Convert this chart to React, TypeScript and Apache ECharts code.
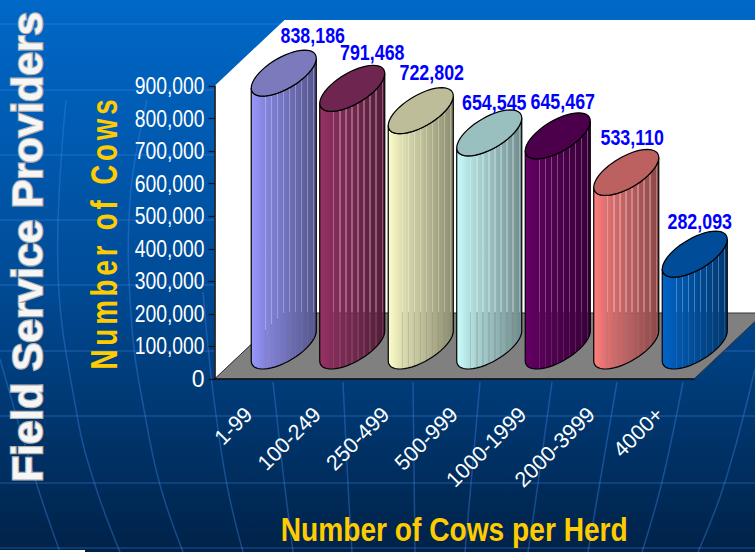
import React, { useEffect, useRef } from "react";
import * as echarts from "echarts";

const categories = ["1-99", "100-249", "250-499", "500-999", "1000-1999", "2000-3999", "4000+"];
const cows = [838186, 791468, 722802, 654545, 645467, 533110, 282093];
const barColors = ["#9999FF", "#993366", "#FFFFCC", "#CCFFFF", "#660066", "#FF8080", "#0066CC"];
const topColors = ["#7A7ABD", "#6E2650", "#BDBD9A", "#9ABFBF", "#4C004C", "#BD6060", "#004C99"];
const labelShift = [[29, -38], [20, -36], [11, -38], [5, -30], [5, -34], [6, -35], [5, -33]];

const W = 755, H = 552;
const GRID = { left: 214.5, top: 86, right: 694, bottom: 379 };
const DEPTH = [70, -66];

const SANS = "'Liberation Sans', Arial, sans-serif";

function mix(hex: string, k: number, alpha = 1) {
  const n = parseInt(hex.slice(1), 16);
  const r = Math.round(((n >> 16) & 255) * k);
  const g = Math.round(((n >> 8) & 255) * k);
  const b = Math.round((n & 255) * k);
  return `rgba(${r},${g},${b},${alpha})`;
}

function bodyGradient(c: string) {
  const base = (t: number) => (t < 0.1 ? 1 - t * 0.9 : 0.91 - ((t - 0.1) / 0.9) * 0.36);
  const stops: { offset: number; color: string }[] = [
    { offset: 0, color: mix(c, 1) },
    { offset: 0.04, color: mix(c, 0.97) },
    { offset: 0.2, color: mix(c, base(0.2)) },
  ];
  const step = 0.0925;
  for (let t = 0.21; t < 0.98; t += step) {
    const g = 0.017;
    stops.push({ offset: t, color: mix(c, base(t), 1) });
    stops.push({ offset: t, color: mix(c, base(t), 0.72) });
    stops.push({ offset: t + g, color: mix(c, base(t), 0.72) });
    stops.push({ offset: t + g, color: mix(c, base(t), 1) });
  }
  stops.push({ offset: 1, color: mix(c, 0.55, 1) });
  return new echarts.graphic.LinearGradient(0, 0, 1, 0, stops);
}

const renderBar = (params: any, api: any) => {
  const i = api.value(0);
  const v = api.value(1);
  const band = api.size([1, 0])[0];
  const top0 = api.coord([i, v]);
  const base0 = api.coord([i, 0]);
  const dx = DEPTH[0] / 2, dy = DEPTH[1] / 2;
  const t = [top0[0] + dx, top0[1] + dy];
  const b = [base0[0] + dx, base0[1] + dy];
  const A = band * 0.362, B = band * 0.307, C = band * 0.336;
  const pt = (c: number[], a: number) => [
    c[0] + A * Math.cos(a) + B * Math.sin(a),
    c[1] - C * Math.sin(a),
  ];
  const a0 = Math.atan2(B, A); // right extreme
  const N = 48;
  const topRing: number[][] = [];
  for (let k = 0; k < N; k++) topRing.push(pt(t, (k / N) * Math.PI * 2));
  const body: number[][] = [];
  for (let k = 0; k <= N / 2; k++) body.push(pt(b, a0 + Math.PI + (k / (N / 2)) * Math.PI));
  for (let k = 0; k <= N / 2; k++) body.push(pt(t, a0 + 2 * Math.PI - (k / (N / 2)) * Math.PI));
  return {
    type: "group",
    children: [
      {
        type: "polygon",
        shape: { points: body },
        style: { fill: bodyGradient(barColors[i]), stroke: "#000", lineWidth: 1.2 },
      },
      {
        type: "polygon",
        shape: { points: topRing },
        style: { fill: topColors[i], stroke: "#000", lineWidth: 1.2 },
      },
      {
        type: "text",
        x: t[0] + labelShift[i][0],
        y: t[1] + labelShift[i][1],
        style: {
          text: v.toLocaleString("en-US"),
          fill: "#0000FF",
          font: `bold 22px ${SANS}`,
          align: "center",
          verticalAlign: "middle",
        },
      },
    ],
  };
};

const meridians: number[][][] = [
  [[0, 359], [37, 485], [60, 552]],
  [[66, 100], [58, 272], [77, 415], [95, 485], [120, 552]],
  [[147, 100], [130, 200], [132, 329], [145, 415], [160, 485], [183, 552]],
  [[203, 292], [213, 392], [227, 485], [243, 552]],
  [[273, 382], [283, 472], [293, 552]],
  [[343, 382], [348, 485], [352, 552]],
  [[413, 382], [415, 552]],
  [[480, 382], [465, 552]],
  [[552, 382], [535, 505], [528, 552]],
  [[617, 382], [588, 552]],
  [[683, 382], [662, 482], [642, 552]],
  [[755, 369], [725, 482], [698, 552]],
];
const parallels = [24, 90, 155, 220, 285, 351, 416, 483, 548];

function condense(el: SVGTextElement, length: number) {
  el.setAttribute("textLength", String(length));
  el.setAttribute("lengthAdjust", "spacingAndGlyphs");
}

export default function App() {
  const ref = useRef<HTMLDivElement>(null);
  useEffect(() => {
    const chart = echarts.init(ref.current!, undefined, { renderer: "svg" });
    const decor: any[] = [];
    parallels.forEach((y) =>
      decor.push({
        type: "line",
        z: -20,
        shape: { x1: 0, y1: y, x2: W, y2: y },
        style: { stroke: "rgba(70,140,235,0.45)", lineWidth: 1.2 },
      })
    );
    meridians.forEach((pts) =>
      decor.push({
        type: "polyline",
        z: -20,
        shape: { points: pts, smooth: 0.4 },
        style: { stroke: "rgba(60,130,225,0.4)", lineWidth: 1.5, fill: "none" },
      })
    );
    const { left, top, right, bottom } = GRID;
    decor.push(
      {
        type: "polygon",
        z: -10,
        shape: {
          points: [[left, top], [left + DEPTH[0], top + DEPTH[1]], [W, top + DEPTH[1]], [W, bottom + DEPTH[1] + 9], [left + DEPTH[0], bottom + DEPTH[1]], [left, bottom]],
        },
        style: { fill: "#fff" },
      },
      {
        type: "polygon",
        z: -9,
        shape: {
          points: [[left, bottom], [right, bottom], [right + DEPTH[0], bottom + DEPTH[1]], [left + DEPTH[0], bottom + DEPTH[1]]],
        },
        style: { fill: "#808080", stroke: "#333", lineWidth: 1 },
      },
      {
        type: "rect",
        z: -9,
        shape: { x: 0, y: 550, width: 85, height: 2 },
        style: { fill: "#fff" },
      },
      {
        type: "text",
        z: 5,
        x: 27.5,
        y: 247,
        rotation: Math.PI / 2,
        style: {
          text: "Field Service Providers",
          font: `bold 42.5px ${SANS}`,
          fill: "#F6F6F6",
          stroke: "#B0B0B0",
          lineWidth: 2.5,
          align: "center",
          verticalAlign: "middle",
        },
      }
    );
    chart.setOption({
      animation: false,
      backgroundColor: new echarts.graphic.LinearGradient(0, 0, 0, 1, [
        { offset: 0, color: "#0068C8" },
        { offset: 0.5, color: "#004C98" },
        { offset: 1, color: "#002248" },
      ]),
      grid: {
        left,
        top,
        width: right - left,
        height: bottom - top,
        containLabel: false,
        outerBoundsMode: "none",
      },
      xAxis: {
        type: "category",
        data: categories,
        name: "Number of Cows per Herd",
        nameLocation: "middle",
        nameMoveOverlap: false,
        nameGap: 134,
        nameTextStyle: { color: "#FFCC00", fontFamily: SANS, fontWeight: "bold", fontSize: 33 },
        axisLine: { lineStyle: { color: "#111", width: 1.5 } },
        axisTick: { length: 8, lineStyle: { color: "#111", width: 1.2 } },
        axisLabel: {
          rotate: 45,
          margin: 32,
          color: "#fff",
          fontFamily: SANS,
          fontSize: 21.5,
          interval: 0,
        },
      },
      yAxis: {
        type: "value",
        min: 0,
        max: 900000,
        interval: 100000,
        name: "Number of Cows",
        nameLocation: "middle",
        nameMoveOverlap: false,
        nameRotate: 90,
        nameGap: 92,
        nameTextStyle: { color: "#FFCC00", fontFamily: SANS, fontWeight: "bold", fontSize: 36 },
        splitLine: { show: false },
        axisLine: { show: true, lineStyle: { color: "#000", width: 1.5 } },
        axisTick: { show: true, length: 6, lineStyle: { color: "#111", width: 1.2 } },
        axisLabel: {
          margin: 10,
          color: "#fff",
          fontFamily: SANS,
          fontSize: 23,
          formatter: (v: number) => v.toLocaleString("en-US"),
        },
      },
      graphic: { elements: decor },
      series: [
        {
          type: "custom",
          renderItem: renderBar,
          clip: false,
          silent: true,
          z: 3,
          encode: { x: 0, y: 1 },
          data: cows.map((v, i) => [i, v]),
        },
      ],
    });
    chart.getDom().querySelectorAll("text").forEach((node) => {
      const el = node as unknown as SVGTextElement;
      const s = el.textContent || "";
      const natural = el.getComputedTextLength();
      if (s === "Number of Cows") {
        el.style.letterSpacing = "5px";
        condense(el, 274);
      } else if (s === "Number of Cows per Herd") {
        condense(el, 347);
      } else if (/^\d{3},\d{3}$/.test(s)) {
        const bold = Number(getComputedStyle(el).fontWeight) >= 600;
        condense(el, natural * (bold ? 0.81 : 0.84));
      }
    });
    return () => chart.dispose();
  }, []);
  return <div ref={ref} style={{ position: "fixed", left: 0, top: 0, width: W, height: H }} />;
}
